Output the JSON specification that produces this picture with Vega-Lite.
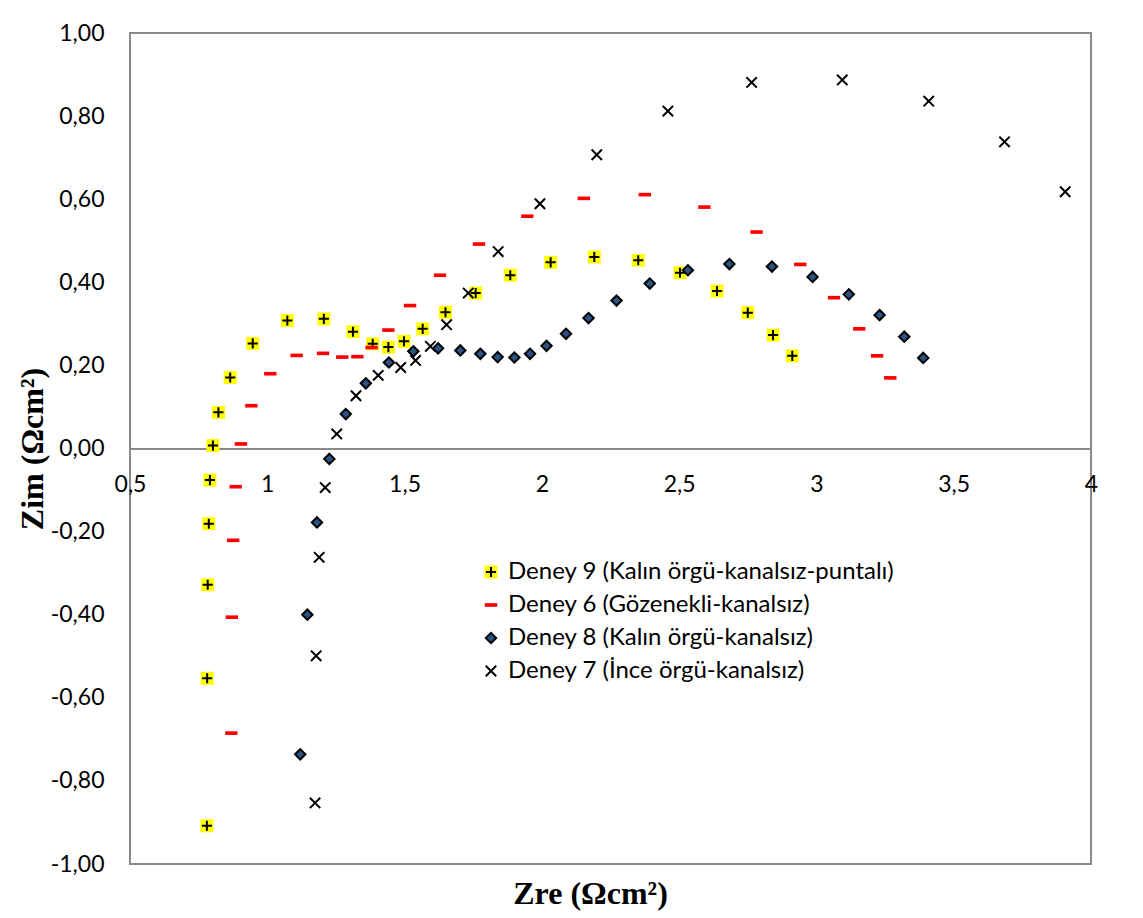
{
  "$schema": "https://vega.github.io/schema/vega-lite/v6.json",
  "width": 961,
  "height": 831,
  "autosize": {"type": "none"},
  "padding": {"left": 130, "top": 33, "right": 52, "bottom": 54},
  "background": "white",
  "title": {"text": "Zre (Ωcm²)", "orient": "bottom", "font": "Liberation Serif", "fontSize": 32, "fontWeight": "bold", "color": "#000000", "anchor": "middle", "frame": "group", "offset": 3, "dx": -20},
  "data": {"values": [
    {"deney": "Deney 9 (Kalın örgü-kanalsız-puntalı)", "zre": 0.780, "zim": -0.908},
    {"deney": "Deney 9 (Kalın örgü-kanalsız-puntalı)", "zre": 0.781, "zim": -0.553},
    {"deney": "Deney 9 (Kalın örgü-kanalsız-puntalı)", "zre": 0.783, "zim": -0.328},
    {"deney": "Deney 9 (Kalın örgü-kanalsız-puntalı)", "zre": 0.787, "zim": -0.181},
    {"deney": "Deney 9 (Kalın örgü-kanalsız-puntalı)", "zre": 0.791, "zim": -0.076},
    {"deney": "Deney 9 (Kalın örgü-kanalsız-puntalı)", "zre": 0.802, "zim": 0.007},
    {"deney": "Deney 9 (Kalın örgü-kanalsız-puntalı)", "zre": 0.822, "zim": 0.087},
    {"deney": "Deney 9 (Kalın örgü-kanalsız-puntalı)", "zre": 0.865, "zim": 0.171},
    {"deney": "Deney 9 (Kalın örgü-kanalsız-puntalı)", "zre": 0.947, "zim": 0.253},
    {"deney": "Deney 9 (Kalın örgü-kanalsız-puntalı)", "zre": 1.073, "zim": 0.308},
    {"deney": "Deney 9 (Kalın örgü-kanalsız-puntalı)", "zre": 1.206, "zim": 0.312},
    {"deney": "Deney 9 (Kalın örgü-kanalsız-puntalı)", "zre": 1.312, "zim": 0.281},
    {"deney": "Deney 9 (Kalın örgü-kanalsız-puntalı)", "zre": 1.384, "zim": 0.252},
    {"deney": "Deney 9 (Kalın örgü-kanalsız-puntalı)", "zre": 1.441, "zim": 0.244},
    {"deney": "Deney 9 (Kalın örgü-kanalsız-puntalı)", "zre": 1.498, "zim": 0.258},
    {"deney": "Deney 9 (Kalın örgü-kanalsız-puntalı)", "zre": 1.566, "zim": 0.288},
    {"deney": "Deney 9 (Kalın örgü-kanalsız-puntalı)", "zre": 1.649, "zim": 0.328},
    {"deney": "Deney 9 (Kalın örgü-kanalsız-puntalı)", "zre": 1.759, "zim": 0.374},
    {"deney": "Deney 9 (Kalın örgü-kanalsız-puntalı)", "zre": 1.885, "zim": 0.417},
    {"deney": "Deney 9 (Kalın örgü-kanalsız-puntalı)", "zre": 2.032, "zim": 0.448},
    {"deney": "Deney 9 (Kalın örgü-kanalsız-puntalı)", "zre": 2.191, "zim": 0.461},
    {"deney": "Deney 9 (Kalın örgü-kanalsız-puntalı)", "zre": 2.351, "zim": 0.453},
    {"deney": "Deney 9 (Kalın örgü-kanalsız-puntalı)", "zre": 2.503, "zim": 0.423},
    {"deney": "Deney 9 (Kalın örgü-kanalsız-puntalı)", "zre": 2.638, "zim": 0.379},
    {"deney": "Deney 9 (Kalın örgü-kanalsız-puntalı)", "zre": 2.750, "zim": 0.327},
    {"deney": "Deney 9 (Kalın örgü-kanalsız-puntalı)", "zre": 2.842, "zim": 0.273},
    {"deney": "Deney 9 (Kalın örgü-kanalsız-puntalı)", "zre": 2.912, "zim": 0.223},
    {"deney": "Deney 6 (Gözenekli-kanalsız)", "zre": 0.869, "zim": -0.685},
    {"deney": "Deney 6 (Gözenekli-kanalsız)", "zre": 0.871, "zim": -0.406},
    {"deney": "Deney 6 (Gözenekli-kanalsız)", "zre": 0.876, "zim": -0.221},
    {"deney": "Deney 6 (Gözenekli-kanalsız)", "zre": 0.885, "zim": -0.092},
    {"deney": "Deney 6 (Gözenekli-kanalsız)", "zre": 0.904, "zim": 0.011},
    {"deney": "Deney 6 (Gözenekli-kanalsız)", "zre": 0.942, "zim": 0.103},
    {"deney": "Deney 6 (Gözenekli-kanalsız)", "zre": 1.011, "zim": 0.180},
    {"deney": "Deney 6 (Gözenekli-kanalsız)", "zre": 1.107, "zim": 0.224},
    {"deney": "Deney 6 (Gözenekli-kanalsız)", "zre": 1.203, "zim": 0.229},
    {"deney": "Deney 6 (Gözenekli-kanalsız)", "zre": 1.273, "zim": 0.220},
    {"deney": "Deney 6 (Gözenekli-kanalsız)", "zre": 1.328, "zim": 0.221},
    {"deney": "Deney 6 (Gözenekli-kanalsız)", "zre": 1.380, "zim": 0.243},
    {"deney": "Deney 6 (Gözenekli-kanalsız)", "zre": 1.441, "zim": 0.285},
    {"deney": "Deney 6 (Gözenekli-kanalsız)", "zre": 1.520, "zim": 0.344},
    {"deney": "Deney 6 (Gözenekli-kanalsız)", "zre": 1.629, "zim": 0.417},
    {"deney": "Deney 6 (Gözenekli-kanalsız)", "zre": 1.771, "zim": 0.492},
    {"deney": "Deney 6 (Gözenekli-kanalsız)", "zre": 1.947, "zim": 0.559},
    {"deney": "Deney 6 (Gözenekli-kanalsız)", "zre": 2.153, "zim": 0.602},
    {"deney": "Deney 6 (Gözenekli-kanalsız)", "zre": 2.375, "zim": 0.611},
    {"deney": "Deney 6 (Gözenekli-kanalsız)", "zre": 2.592, "zim": 0.581},
    {"deney": "Deney 6 (Gözenekli-kanalsız)", "zre": 2.782, "zim": 0.521},
    {"deney": "Deney 6 (Gözenekli-kanalsız)", "zre": 2.941, "zim": 0.443},
    {"deney": "Deney 6 (Gözenekli-kanalsız)", "zre": 3.064, "zim": 0.363},
    {"deney": "Deney 6 (Gözenekli-kanalsız)", "zre": 3.156, "zim": 0.288},
    {"deney": "Deney 6 (Gözenekli-kanalsız)", "zre": 3.221, "zim": 0.223},
    {"deney": "Deney 6 (Gözenekli-kanalsız)", "zre": 3.269, "zim": 0.170},
    {"deney": "Deney 8 (Kalın örgü-kanalsız)", "zre": 1.120, "zim": -0.736},
    {"deney": "Deney 8 (Kalın örgü-kanalsız)", "zre": 1.146, "zim": -0.400},
    {"deney": "Deney 8 (Kalın örgü-kanalsız)", "zre": 1.181, "zim": -0.178},
    {"deney": "Deney 8 (Kalın örgü-kanalsız)", "zre": 1.226, "zim": -0.025},
    {"deney": "Deney 8 (Kalın örgü-kanalsız)", "zre": 1.286, "zim": 0.083},
    {"deney": "Deney 8 (Kalın örgü-kanalsız)", "zre": 1.359, "zim": 0.157},
    {"deney": "Deney 8 (Kalın örgü-kanalsız)", "zre": 1.443, "zim": 0.207},
    {"deney": "Deney 8 (Kalın örgü-kanalsız)", "zre": 1.532, "zim": 0.234},
    {"deney": "Deney 8 (Kalın örgü-kanalsız)", "zre": 1.622, "zim": 0.241},
    {"deney": "Deney 8 (Kalın örgü-kanalsız)", "zre": 1.703, "zim": 0.236},
    {"deney": "Deney 8 (Kalın örgü-kanalsız)", "zre": 1.776, "zim": 0.228},
    {"deney": "Deney 8 (Kalın örgü-kanalsız)", "zre": 1.839, "zim": 0.220},
    {"deney": "Deney 8 (Kalın örgü-kanalsız)", "zre": 1.900, "zim": 0.219},
    {"deney": "Deney 8 (Kalın örgü-kanalsız)", "zre": 1.957, "zim": 0.228},
    {"deney": "Deney 8 (Kalın örgü-kanalsız)", "zre": 2.017, "zim": 0.247},
    {"deney": "Deney 8 (Kalın örgü-kanalsız)", "zre": 2.088, "zim": 0.276},
    {"deney": "Deney 8 (Kalın örgü-kanalsız)", "zre": 2.170, "zim": 0.314},
    {"deney": "Deney 8 (Kalın örgü-kanalsız)", "zre": 2.272, "zim": 0.356},
    {"deney": "Deney 8 (Kalın örgü-kanalsız)", "zre": 2.393, "zim": 0.397},
    {"deney": "Deney 8 (Kalın örgü-kanalsız)", "zre": 2.532, "zim": 0.429},
    {"deney": "Deney 8 (Kalın örgü-kanalsız)", "zre": 2.683, "zim": 0.444},
    {"deney": "Deney 8 (Kalın örgü-kanalsız)", "zre": 2.838, "zim": 0.438},
    {"deney": "Deney 8 (Kalın örgü-kanalsız)", "zre": 2.986, "zim": 0.413},
    {"deney": "Deney 8 (Kalın örgü-kanalsız)", "zre": 3.118, "zim": 0.371},
    {"deney": "Deney 8 (Kalın örgü-kanalsız)", "zre": 3.230, "zim": 0.321},
    {"deney": "Deney 8 (Kalın örgü-kanalsız)", "zre": 3.320, "zim": 0.269},
    {"deney": "Deney 8 (Kalın örgü-kanalsız)", "zre": 3.389, "zim": 0.218},
    {"deney": "Deney 7 (İnce örgü-kanalsız)", "zre": 1.174, "zim": -0.853},
    {"deney": "Deney 7 (İnce örgü-kanalsız)", "zre": 1.178, "zim": -0.499},
    {"deney": "Deney 7 (İnce örgü-kanalsız)", "zre": 1.189, "zim": -0.262},
    {"deney": "Deney 7 (İnce örgü-kanalsız)", "zre": 1.211, "zim": -0.094},
    {"deney": "Deney 7 (İnce örgü-kanalsız)", "zre": 1.253, "zim": 0.035},
    {"deney": "Deney 7 (İnce örgü-kanalsız)", "zre": 1.323, "zim": 0.127},
    {"deney": "Deney 7 (İnce örgü-kanalsız)", "zre": 1.404, "zim": 0.176},
    {"deney": "Deney 7 (İnce örgü-kanalsız)", "zre": 1.486, "zim": 0.195},
    {"deney": "Deney 7 (İnce örgü-kanalsız)", "zre": 1.540, "zim": 0.212},
    {"deney": "Deney 7 (İnce örgü-kanalsız)", "zre": 1.594, "zim": 0.246},
    {"deney": "Deney 7 (İnce örgü-kanalsız)", "zre": 1.653, "zim": 0.298},
    {"deney": "Deney 7 (İnce örgü-kanalsız)", "zre": 1.732, "zim": 0.374},
    {"deney": "Deney 7 (İnce örgü-kanalsız)", "zre": 1.841, "zim": 0.474},
    {"deney": "Deney 7 (İnce örgü-kanalsız)", "zre": 1.993, "zim": 0.589},
    {"deney": "Deney 7 (İnce örgü-kanalsız)", "zre": 2.200, "zim": 0.707},
    {"deney": "Deney 7 (İnce örgü-kanalsız)", "zre": 2.459, "zim": 0.812},
    {"deney": "Deney 7 (İnce örgü-kanalsız)", "zre": 2.764, "zim": 0.881},
    {"deney": "Deney 7 (İnce örgü-kanalsız)", "zre": 3.094, "zim": 0.887},
    {"deney": "Deney 7 (İnce örgü-kanalsız)", "zre": 3.409, "zim": 0.836},
    {"deney": "Deney 7 (İnce örgü-kanalsız)", "zre": 3.685, "zim": 0.738},
    {"deney": "Deney 7 (İnce örgü-kanalsız)", "zre": 3.906, "zim": 0.618}
  ]},
  "encoding": {
    "x": {"field": "zre", "type": "quantitative",
      "scale": {"domain": [0.5, 4], "nice": false, "zero": false},
      "axis": {"values": [0.5, 1, 1.5, 2, 2.5, 3, 3.5, 4], "format": "~f", "offset": -415.5, "domain": true, "domainColor": "#898989", "domainWidth": 2, "labelPadding": 25, "labelFlush": false, "labelOverlap": false, "title": null}},
    "y": {"field": "zim", "type": "quantitative",
      "scale": {"domain": [-1, 1], "nice": false, "zero": false},
      "axis": {"values": [-1, -0.8, -0.6, -0.4, -0.2, 0, 0.2, 0.4, 0.6, 0.8, 1], "format": ".2f", "domain": false, "labelPadding": 26, "labelFlush": false, "labelOverlap": false, "title": "Zim (Ωcm²)", "titleFont": "Liberation Serif", "titleFontSize": 32, "titleFontWeight": "bold", "titleColor": "#000000", "titlePadding": 1}}
  },
  "layer": [
    {
      "transform": [{"filter": {"field": "deney", "equal": "Deney 9 (Kalın örgü-kanalsız-puntalı)"}}],
      "mark": {"type": "point", "filled": true, "shape": "square", "size": 169, "opacity": 1, "strokeWidth": 0},
      "encoding": {
        "color": {"field": "deney", "type": "nominal",
          "scale": {"domain": ["Deney 9 (Kalın örgü-kanalsız-puntalı)"], "range": ["#FFFF00"]},
          "legend": {"orient": "none", "legendX": 349, "legendY": 527, "title": null, "symbolType": "square", "symbolSize": 169, "symbolStrokeWidth": 0, "labelColor": "transparent", "labelFont": "Lato", "labelFontSize": 24, "labelOffset": 5, "rowPadding": 9, "labelLimit": 600, "padding": 0}}
      }
    },
    {
      "mark": {"type": "point", "size": 169, "opacity": 1, "strokeWidth": 2},
      "encoding": {
        "shape": {"field": "deney", "type": "nominal",
          "scale": {"domain": ["Deney 9 (Kalın örgü-kanalsız-puntalı)", "Deney 6 (Gözenekli-kanalsız)", "Deney 8 (Kalın örgü-kanalsız)", "Deney 7 (İnce örgü-kanalsız)"],
            "range": ["M-0.78,0H0.78M0,-0.78V0.78", "M-0.95,-0.28H0.95V0.28H-0.95Z", "M-0.8,0L0,-0.8L0.8,0L0,0.8Z", "M-0.8,-0.8L0.8,0.8M-0.8,0.8L0.8,-0.8"]},
          "legend": {"orient": "none", "legendX": 349, "legendY": 527, "title": null, "symbolSize": 169, "symbolStrokeWidth": 2, "labelColor": "#000000", "labelFont": "Lato", "labelFontSize": 24, "labelOffset": 5, "rowPadding": 9, "labelLimit": 600, "padding": 0}},
        "fill": {"field": "deney", "type": "nominal",
          "scale": {"domain": ["Deney 9 (Kalın örgü-kanalsız-puntalı)", "Deney 6 (Gözenekli-kanalsız)", "Deney 8 (Kalın örgü-kanalsız)", "Deney 7 (İnce örgü-kanalsız)"],
            "range": ["transparent", "#FF0000", "#2A5485", "transparent"]},
          "legend": {"orient": "none", "legendX": 349, "legendY": 527, "title": null, "symbolSize": 169, "symbolStrokeWidth": 2, "labelColor": "#000000", "labelFont": "Lato", "labelFontSize": 24, "labelOffset": 5, "rowPadding": 9, "labelLimit": 600, "padding": 0}},
        "stroke": {"field": "deney", "type": "nominal",
          "scale": {"domain": ["Deney 9 (Kalın örgü-kanalsız-puntalı)", "Deney 6 (Gözenekli-kanalsız)", "Deney 8 (Kalın örgü-kanalsız)", "Deney 7 (İnce örgü-kanalsız)"],
            "range": ["#000000", "transparent", "#000000", "#000000"]},
          "legend": {"orient": "none", "legendX": 349, "legendY": 527, "title": null, "symbolSize": 169, "symbolStrokeWidth": 2, "labelColor": "#000000", "labelFont": "Lato", "labelFontSize": 24, "labelOffset": 5, "rowPadding": 9, "labelLimit": 600, "padding": 0}}
      }
    }
  ],
  "config": {
    "locale": {"number": {"decimal": ",", "thousands": ".", "grouping": [3], "currency": ["", ""], "minus": "-"}},
    "view": {"stroke": "#898989", "strokeWidth": 2},
    "axis": {"labelFont": "Lato", "labelFontSize": 23, "labelColor": "#000000", "grid": false, "ticks": false},
    "font": "Lato"
  }
}
